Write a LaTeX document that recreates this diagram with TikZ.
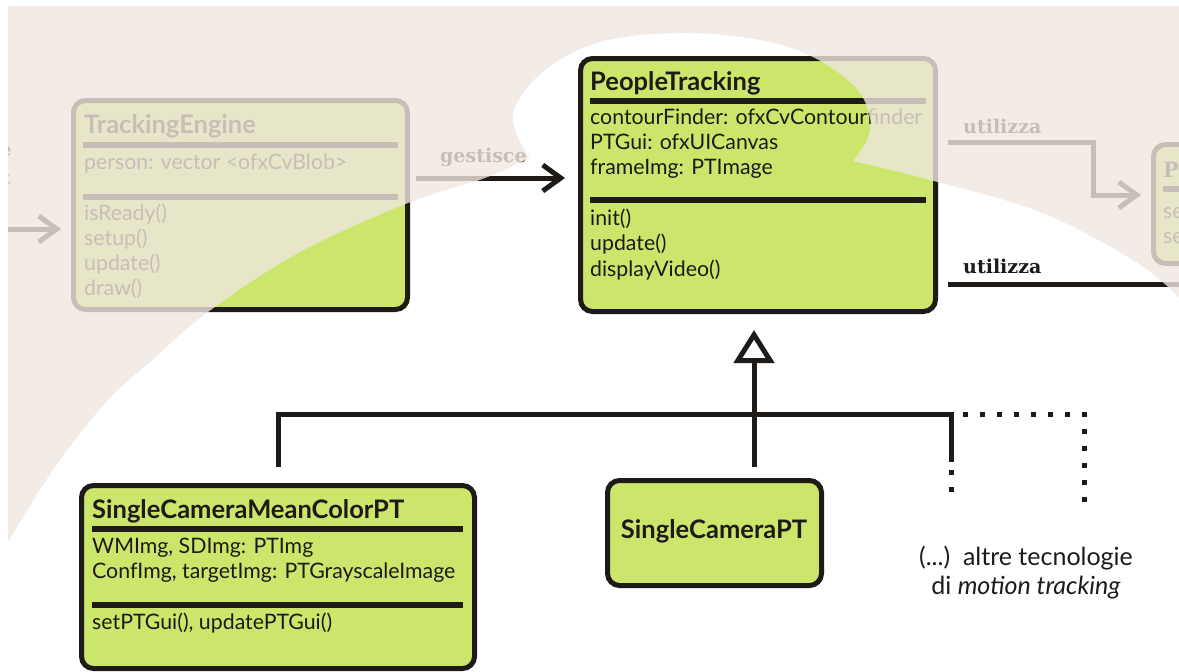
\documentclass[tikz,border=0pt]{standalone}
\usepackage{fontspec}
\setmainfont{Lato}
\newfontfamily\slab{DejaVu Serif}
\usetikzlibrary{arrows.meta}

\definecolor{leaf}{RGB}{203,230,107}
\definecolor{ink}{RGB}{30,26,23}
\definecolor{sand}{RGB}{240,231,224}

\tikzset{
  umlbox/.style={draw=ink, fill=leaf, line width=5pt, rounded corners=12pt,
    inner sep=0pt, anchor=north west},
  title/.style={anchor=base west, inner sep=0pt, text=ink,
    font=\bfseries\fontsize{25.5}{30}\selectfont},
  member/.style={anchor=base west, inner sep=0pt, text=ink,
    font=\fontsize{21.3}{25}\selectfont},
  note/.style={anchor=base, inner sep=0pt, text=ink,
    font=\fontsize{25}{30}\selectfont},
  linklabel/.style={anchor=base west, inner sep=0pt, text=ink,
    font=\slab\bfseries\fontsize{19}{23}\selectfont},
  rule/.style={draw=ink, line width=6pt},
  link/.style={draw=ink, line width=5pt, line join=miter},
  barb/.style={-{Straight Barb[length=18pt,width=26pt]}},
  generalise/.style={-{Triangle[length=33pt,width=40pt,fill=white]}},
  dotline/.style={draw=ink, line width=5pt, dash pattern=on 5pt off 12pt},
  fade/.style={fill=sand, opacity=0.8},
}

\begin{document}
\begin{tikzpicture}[x=1pt,y=-1pt]
\useasboundingbox (0,0) rectangle (1179,672);
\begin{scope}
\clip (8,6) rectangle (1179,672);

% ---------- TrackingEngine ----------
\node[umlbox, minimum width=334pt, minimum height=209pt] (te) at (71,98) {};
\node[title] (teT) at (84,133) {TrackingEngine};
\draw[rule] (83,145) -- (398,145);
\node[member] (teA) at (84,169) {person: vector <ofxCvBlob>};
\draw[rule] (83,197) -- (398,197);
\node[member] (teM1) at (84,220) {isReady()};
\node[member] (teM2) at (84,245) {setup()};
\node[member] (teM3) at (84,270) {update()};
\node[member] (teM4) at (84,295) {draw()};

% ---------- PeopleTracking ----------
\node[umlbox, minimum width=355pt, minimum height=253pt] (pt) at (578,56) {};
\node[title] (ptT) at (590,90) {PeopleTracking};
\draw[rule] (590,101) -- (926,101);
\node[member] (ptA1) at (590,124.5) {contourFinder: ofxCvContourfinder};
\node[member] (ptA2) at (590,149.5) {PTGui: ofxUICanvas};
\node[member] (ptA3) at (590,174.5) {frameImg: PTImage};
\draw[rule] (590,200) -- (926,200);
\node[member] (ptM1) at (590,225) {init()};
\node[member] (ptM2) at (590,250) {update()};
\node[member] (ptM3) at (590,276) {displayVideo()};

% ---------- right-hand class, cut by the frame ----------
\node[umlbox, minimum width=115pt, minimum height=119pt] (ptr) at (1151,142) {};
\node[linklabel, font=\slab\bfseries\fontsize{21}{25}\selectfont] (ptrT) at (1163,177) {PT};
\draw[rule] (1163,189) -- (1200,189);
\node[member] (ptrA1) at (1163,218) {se};
\node[member] (ptrA2) at (1163,243) {se};

% ---------- SingleCameraMeanColorPT ----------
\node[umlbox, minimum width=393pt, minimum height=183pt] (scmc) at (79,483) {};
\node[title] (scmcT) at (92,518) {SingleCameraMeanColorPT};
\draw[rule] (92,529) -- (463,529);
\node[member] (scmcA1) at (92,553.5) {WMImg, SDImg: PTImg};
\node[member] (scmcA2) at (92,578.5) {ConfImg, targetImg: PTGrayscaleImage};
\draw[rule] (92,605) -- (463,605);
\node[member] (scmcM1) at (92,629) {setPTGui(), updatePTGui()};

% ---------- SingleCameraPT ----------
\node[umlbox, minimum width=214pt, minimum height=105pt] (scpt) at (605,478) {};
\node[title, anchor=base] (scptT) at (714,538) {SingleCameraPT};

% ---------- other technologies ----------
\node[note] (more1) at (1026,565) {(...)\ \ altre tecnologie};
\node[note] (more2) at (1026,594) {di \textit{motion tracking}};

% ---------- associations ----------
\coordinate (inL) at (-30,229);
\draw[link, barb, shorten >=10pt] (inL) -- (te.west |- inL);
\node[linklabel, anchor=base east] (cutA) at (12,156) {e};
\node[linklabel, anchor=base east] (cutB) at (11,184) {t};

\coordinate (gY) at (0,178);
\draw[link, barb, shorten <=6pt, shorten >=13pt] (te.east |- gY) -- (pt.west |- gY);
\node[linklabel] (gestisce) at (440,162) {gestisce};

\coordinate (uY1) at (0,142);
\coordinate (uY2) at (0,195);
\coordinate (uBend) at (1093,0);
\draw[link, barb, shorten <=10pt, shorten >=10pt]
  (pt.east |- uY1) -- (uBend |- uY1) -- (uBend |- uY2) -- (ptr.west |- uY2);
\node[linklabel] (util1) at (963,133) {utilizza};

\coordinate (outR) at (1200,284);
\draw[link, shorten <=10pt] (pt.east |- outR) -- (outR);
\node[linklabel] (util2) at (963,273) {utilizza};

% ---------- generalisation ----------
\coordinate (stem) at (754,0);
\coordinate (bus) at (0,414);
\coordinate (busL) at (278,0);
\coordinate (busR) at (951,0);
\draw[link, generalise, shorten <=11pt, shorten >=16pt] (scpt.north -| stem) -- (pt.south -| stem);
\draw[link, shorten <=16pt] (scmc.north -| busL) |- (busR |- bus) -- (951,462);
\draw[dotline] (951,470) -- (951,500);
\draw[dotline] (963,414) -- (1090,414);
\draw[dotline] (1084.5,411.5) -- (1084.5,503);

% ---------- faded backdrop ----------
\fill[fade] (8,6) -- (1179,6) -- (1179,297)
  -- plot[smooth, tension=0.6] coordinates {(1179,297) (1133,260) (1040,212) (930,180) (853,161)}
  -- plot[smooth, tension=0.6] coordinates {(853,161) (867,140) (870,118) (856,88) (815,58) (760,40) (680,33) (600,42) (545,70) (516,105) (515,130) (529,157)}
  -- plot[smooth, tension=0.6] coordinates {(529,158) (485,178) (408,203) (300,252) (208,312) (150,362) (108,400) (55,467) (8,542)}
  -- cycle;
\end{scope}
\end{tikzpicture}
\end{document}
